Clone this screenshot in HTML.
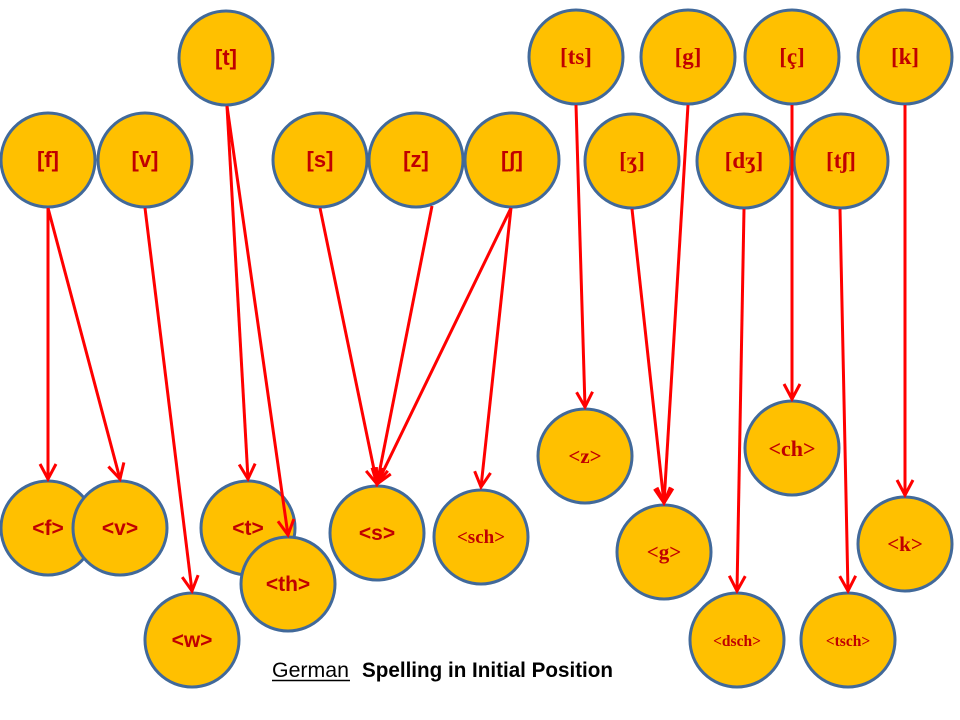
<!DOCTYPE html>
<html>
<head>
<meta charset="utf-8">
<style>
  html, body { margin: 0; padding: 0; background: #ffffff; }
  body { width: 960px; height: 720px; overflow: hidden; }
  svg { display: block; }
  .c { fill: #FFC000; stroke: #41699A; stroke-width: 3; }
  .ss { font-family: "Liberation Sans", "DejaVu Sans", sans-serif; font-weight: bold; fill: #C00000; text-anchor: middle; }
  .sf { font-family: "Liberation Serif", "DejaVu Serif", serif; font-weight: bold; fill: #C00000; text-anchor: middle; }
  .ar { stroke: #FF0000; stroke-width: 3; fill: none; }
</style>
</head>
<body>
<svg width="960" height="720" viewBox="0 0 960 720" xmlns="http://www.w3.org/2000/svg">
  <defs>
    <marker id="a" markerUnits="userSpaceOnUse" markerWidth="24" markerHeight="24" viewBox="-18 -12 24 24" refX="0" refY="0" orient="auto">
      <path d="M-15,-8 L0,0 L-15,8" stroke="#FF0000" stroke-width="3" fill="none"/>
    </marker>
  </defs>

  <!-- top row circles -->
  <circle class="c" cx="226" cy="58" r="47"/>
  <circle class="c" cx="576" cy="57" r="47"/>
  <circle class="c" cx="688" cy="57" r="47"/>
  <circle class="c" cx="792" cy="57" r="47"/>
  <circle class="c" cx="905" cy="57" r="47"/>

  <circle class="c" cx="48" cy="160" r="47"/>
  <circle class="c" cx="145" cy="160" r="47"/>
  <circle class="c" cx="320" cy="160" r="47"/>
  <circle class="c" cx="416" cy="160" r="47"/>
  <circle class="c" cx="512" cy="160" r="47"/>
  <circle class="c" cx="632" cy="161" r="47"/>
  <circle class="c" cx="744" cy="161" r="47"/>
  <circle class="c" cx="841" cy="161" r="47"/>

  <!-- bottom circles -->
  <circle class="c" cx="48" cy="528" r="47"/>
  <circle class="c" cx="120" cy="528" r="47"/>
  <circle class="c" cx="248" cy="528" r="47"/>
  <circle class="c" cx="288" cy="584" r="47"/>
  <circle class="c" cx="192" cy="640" r="47"/>
  <circle class="c" cx="377" cy="533" r="47"/>
  <circle class="c" cx="481" cy="537" r="47"/>
  <circle class="c" cx="585" cy="456" r="47"/>
  <circle class="c" cx="792" cy="448" r="47"/>
  <circle class="c" cx="664" cy="552" r="47"/>
  <circle class="c" cx="905" cy="544" r="47"/>
  <circle class="c" cx="737" cy="640" r="47"/>
  <circle class="c" cx="848" cy="640" r="47"/>

  <!-- labels top -->
  <text class="ss" x="226" y="65" font-size="22">[t]</text>
  <text class="ss" x="48" y="167" font-size="22">[f]</text>
  <text class="ss" x="145" y="167" font-size="22">[v]</text>
  <text class="ss" x="320" y="167" font-size="22">[s]</text>
  <text class="ss" x="416" y="167" font-size="22">[z]</text>
  <text class="ss" x="512" y="167" font-size="22">[ʃ]</text>

  <text class="sf" x="576" y="64" font-size="23">[ts]</text>
  <text class="sf" x="688" y="64" font-size="23">[g]</text>
  <text class="sf" x="792" y="64" font-size="23">[ç]</text>
  <text class="sf" x="905" y="64" font-size="23">[k]</text>
  <text class="sf" x="632" y="168" font-size="23">[ʒ]</text>
  <text class="sf" x="744" y="168" font-size="23">[dʒ]</text>
  <text class="sf" x="841" y="168" font-size="23">[tʃ]</text>

  <!-- labels bottom -->
  <text class="ss" x="48" y="535" font-size="21">&lt;f&gt;</text>
  <text class="ss" x="120" y="535" font-size="21">&lt;v&gt;</text>
  <text class="ss" x="248" y="535" font-size="21">&lt;t&gt;</text>
  <text class="ss" x="288" y="591" font-size="21">&lt;th&gt;</text>
  <text class="ss" x="192" y="647" font-size="21">&lt;w&gt;</text>
  <text class="ss" x="377" y="540" font-size="21">&lt;s&gt;</text>

  <text class="sf" x="481" y="543" font-size="19">&lt;sch&gt;</text>
  <text class="sf" x="585" y="463" font-size="21">&lt;z&gt;</text>
  <text class="sf" x="792" y="456" font-size="22">&lt;ch&gt;</text>
  <text class="sf" x="664" y="559" font-size="21">&lt;g&gt;</text>
  <text class="sf" x="905" y="551" font-size="21">&lt;k&gt;</text>
  <text class="sf" x="737" y="646" font-size="15.5">&lt;dsch&gt;</text>
  <text class="sf" x="848" y="646" font-size="15.5">&lt;tsch&gt;</text>

  <!-- arrows -->
  <line class="ar" x1="48" y1="208" x2="48" y2="479" marker-end="url(#a)"/>
  <line class="ar" x1="48" y1="208" x2="120" y2="479" marker-end="url(#a)"/>
  <line class="ar" x1="145" y1="208" x2="192" y2="591" marker-end="url(#a)"/>
  <line class="ar" x1="227" y1="106" x2="248" y2="479" marker-end="url(#a)"/>
  <line class="ar" x1="227" y1="106" x2="288" y2="535" marker-end="url(#a)"/>
  <line class="ar" x1="320" y1="208" x2="377" y2="484" marker-end="url(#a)"/>
  <line class="ar" x1="432" y1="206" x2="377" y2="484" marker-end="url(#a)"/>
  <line class="ar" x1="511" y1="208" x2="377" y2="484" marker-end="url(#a)"/>
  <line class="ar" x1="511" y1="208" x2="481" y2="487" marker-end="url(#a)"/>
  <line class="ar" x1="576" y1="105" x2="585" y2="407" marker-end="url(#a)"/>
  <line class="ar" x1="688" y1="105" x2="664" y2="503" marker-end="url(#a)"/>
  <line class="ar" x1="632" y1="209" x2="664" y2="503" marker-end="url(#a)"/>
  <line class="ar" x1="792" y1="105" x2="792" y2="399" marker-end="url(#a)"/>
  <line class="ar" x1="744" y1="209" x2="737" y2="591" marker-end="url(#a)"/>
  <line class="ar" x1="840" y1="209" x2="848" y2="591" marker-end="url(#a)"/>
  <line class="ar" x1="905" y1="105" x2="905" y2="495" marker-end="url(#a)"/>

  <!-- title -->
  <text x="272" y="677" font-family="Liberation Sans, sans-serif" font-size="21" fill="#000" textLength="77" lengthAdjust="spacingAndGlyphs">German</text>
  <line x1="272" y1="680.5" x2="350" y2="680.5" stroke="#000" stroke-width="1.5"/>
  <text x="362" y="677" font-family="Liberation Sans, sans-serif" font-weight="bold" font-size="21" fill="#000" textLength="251" lengthAdjust="spacingAndGlyphs">Spelling in Initial Position</text>
</svg>
</body>
</html>
